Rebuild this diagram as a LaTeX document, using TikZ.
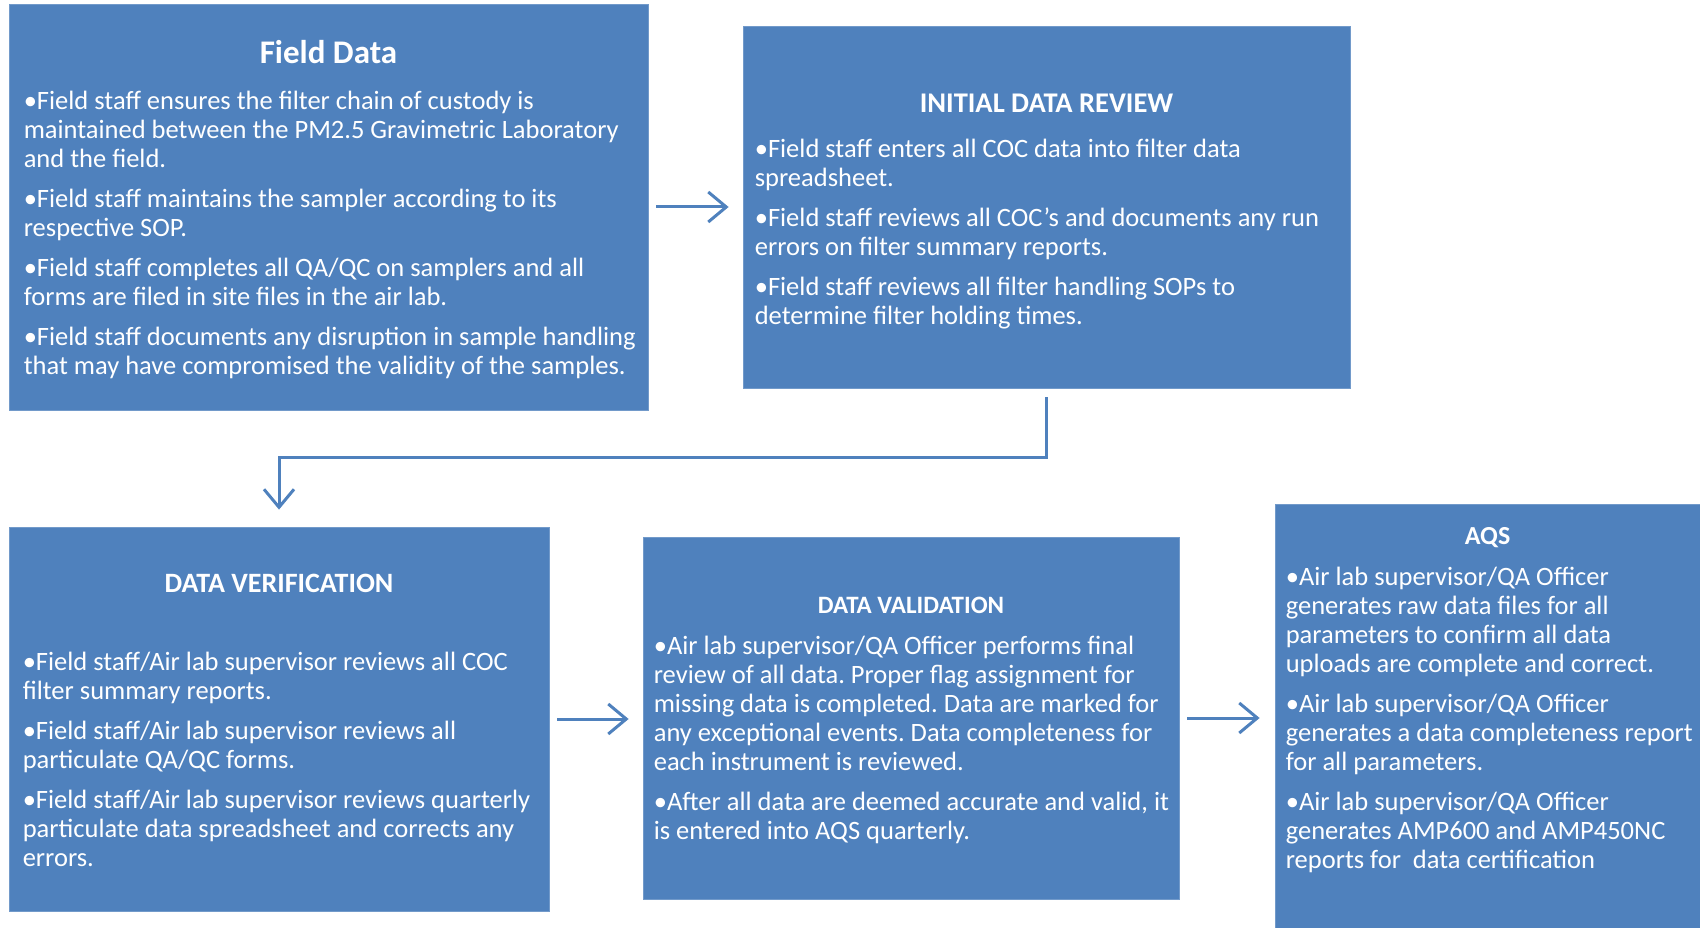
\documentclass[tikz,border=0pt]{standalone}
\usepackage{fontspec}
\setmainfont{Carlito}
\usepackage{tikz}
\usetikzlibrary{arrows.meta, positioning, calc}
\definecolor{boxblue}{HTML}{4F81BD}
\frenchspacing

\begin{document}
\begin{tikzpicture}[x=1pt, y=-1pt,
    stepbox/.style={fill=boxblue, draw=boxblue!80!white, line width=0.8pt, inner sep=0pt},
    boxtitle/.style={text=white, font=\bfseries\fontsize{#1}{#1}\selectfont, inner sep=0pt},
    boxbody/.style={text=white, align=left, anchor=north west, inner sep=0pt, font=\fontsize{26.5}{29}\selectfont},
    flow/.style={boxblue, line width=3pt, -{Straight Barb[length=18pt, width=30pt]}}
]
\useasboundingbox (0,0) rectangle (1700,928);

% Process boxes
\node[stepbox, minimum width=639pt, minimum height=406pt] (fd) at (328.5,207) {};
\node[stepbox, minimum width=607pt, minimum height=362pt] (idr) at (1046.5,207) {};
\node[stepbox, minimum width=540pt, minimum height=384pt] (dv) at (279,719) {};
\node[stepbox, minimum width=536pt, minimum height=362pt] (dval) at (911,718) {};
\node[stepbox, minimum width=425pt, minimum height=424pt] (aqs) at (1487.5,716) {};

% Titles
\node[boxtitle=33] (fdtitle) at ([yshift=-48pt]fd.north) {Field Data};
\node[boxtitle=28.5] (idrtitle) at ([yshift=-78pt]idr.north) {INITIAL DATA REVIEW};
\node[boxtitle=28] (dvtitle) at ([yshift=-57pt]dv.north) {DATA VERIFICATION};
\node[boxtitle=25] (dvaltitle) at ([yshift=-69pt]dval.north) {DATA VALIDATION};
\node[boxtitle=26] (aqstitle) at ([yshift=-34.5pt]aqs.north) {AQS};

% Bullet text
\node[boxbody] (fdtext) at ([xshift=15pt, yshift=-87.5pt]fd.north west) {%
•Field staff ensures the filter chain of custody is\\
maintained between the PM2.5 Gravimetric Laboratory\\
and the field.\\[11pt]
•Field staff maintains the sampler according to its\\
respective SOP.\\[11pt]
•Field staff completes all QA/QC on samplers and all\\
forms are filed in site files in the air lab.\\[11pt]
•Field staff documents any disruption in sample handling\\
that may have compromised the validity of the samples.};

\node[boxbody] (idrtext) at ([xshift=12pt, yshift=-113pt]idr.north west) {%
•Field staff enters all COC data into filter data\\
spreadsheet.\\[11pt]
•Field staff reviews all COC's and documents any run\\
errors on filter summary reports.\\[11pt]
•Field staff reviews all filter handling SOPs to\\
determine filter holding times.};

\node[boxbody] (dvtext) at ([xshift=14pt, yshift=-125pt]dv.north west) {%
•Field staff/Air lab supervisor reviews all COC\\
filter summary reports.\\[11pt]
•Field staff/Air lab supervisor reviews all\\
particulate QA/QC forms.\\[11pt]
•Field staff/Air lab supervisor reviews quarterly\\
particulate data spreadsheet and corrects any\\
errors.};

\node[boxbody] (dvaltext) at ([xshift=11pt, yshift=-99.5pt]dval.north west) {%
•Air lab supervisor/QA Officer performs final\\
review of all data. Proper flag assignment for\\
missing data is completed. Data are marked for\\
any exceptional events. Data completeness for\\
each instrument is reviewed.\\[11pt]
•After all data are deemed accurate and valid, it\\
is entered into AQS quarterly.};

\node[boxbody] (aqstext) at ([xshift=11pt, yshift=-63pt]aqs.north west) {%
•Air lab supervisor/QA Officer\\
generates raw data files for all\\
parameters to confirm all data\\
uploads are complete and correct.\\[11pt]
•Air lab supervisor/QA Officer\\
generates a data completeness report\\
for all parameters.\\[11pt]
•Air lab supervisor/QA Officer\\
generates AMP600 and AMP450NC\\
reports for\ \ data certification};

% Flow arrows
\draw[flow, shorten <=8pt, shorten >=14pt] (fd) -- (idr);
\draw[flow, shorten <=9pt, shorten >=17pt] (idr.south) |- ($(idr.south)!0.5!(dv.north)$) -| (dv.north);
\draw[flow, shorten <=8pt, shorten >=14pt] (dv.east) -- (dv.east -| dval.west);
\draw[flow, shorten <=8pt, shorten >=15pt] (dval.east) -- (dval.east -| aqs.west);
\end{tikzpicture}
\end{document}
